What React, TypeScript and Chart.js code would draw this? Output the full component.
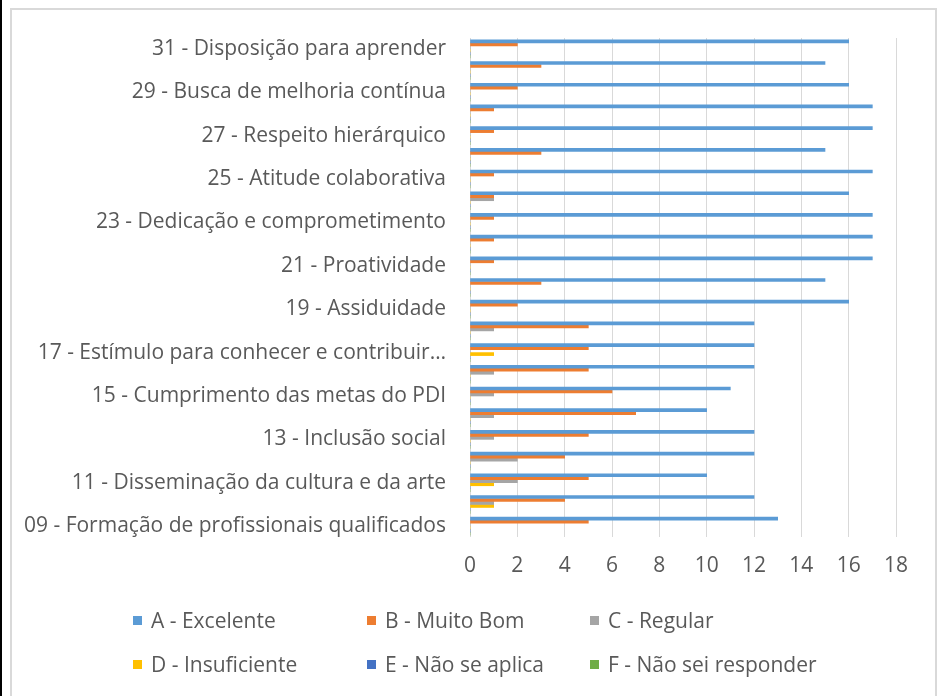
import React, { useEffect, useRef } from "react";
import { Chart, registerables } from "chart.js";

Chart.register(...registerables);

const categories = [
  "31 - Disposição para aprender",
  "30",
  "29 - Busca de melhoria contínua",
  "28",
  "27 - Respeito hierárquico",
  "26",
  "25 - Atitude colaborativa",
  "24",
  "23 - Dedicação e comprometimento",
  "22",
  "21 - Proatividade",
  "20",
  "19 - Assiduidade",
  "18",
  "17 - Estímulo para conhecer e contribuir…",
  "16",
  "15 - Cumprimento das metas do PDI",
  "14",
  "13 - Inclusão social",
  "12",
  "11 - Disseminação da cultura e da arte",
  "10",
  "09 - Formação de profissionais qualificados",
];

const seriesNames = [
  "A - Excelente",
  "B - Muito Bom",
  "C - Regular",
  "D - Insuficiente",
  "E - Não se aplica",
  "F - Não sei responder",
];

const seriesColors = ["#5B9BD5", "#ED7D31", "#A5A5A5", "#FFC000", "#4472C4", "#70AD47"];

const excelente = [16, 15, 16, 17, 17, 15, 17, 16, 17, 17, 17, 15, 16, 12, 12, 12, 11, 10, 12, 12, 10, 12, 13];
const muitoBom = [2, 3, 2, 1, 1, 3, 1, 1, 1, 1, 1, 3, 2, 5, 5, 5, 6, 7, 5, 4, 5, 4, 5];
const regular = [0, 0, 0, 0, 0, 0, 0, 1, 0, 0, 0, 0, 0, 1, 0, 1, 1, 1, 1, 2, 2, 1, 0];
const insuficiente = [0, 0, 0, 0, 0, 0, 0, 0, 0, 0, 0, 0, 0, 0, 1, 0, 0, 0, 0, 0, 1, 1, 0];
const naoSeAplica = [0, 0, 0, 0, 0, 0, 0, 0, 0, 0, 0, 0, 0, 0, 0, 0, 0, 0, 0, 0, 0, 0, 0];
const naoSeiResponder = [0, 0, 0, 0, 0, 0, 0, 0, 0, 0, 0, 0, 0, 0, 0, 0, 0, 0, 0, 0, 0, 0, 0];

const xTicks = [0, 2, 4, 6, 8, 10, 12, 14, 16, 18];

const FONT = "'Open Sans', Lato, sans-serif";
const FSIZE = 21;
const TEXT = "#595959";

export default function App() {
  const ref = useRef<HTMLCanvasElement | null>(null);

  useEffect(() => {
    if (!ref.current) return;
    const values = [excelente, muitoBom, regular, insuficiente, naoSeAplica, naoSeiResponder];
    const chart = new Chart(ref.current, {
      type: "bar",
      data: {
        labels: categories,
        datasets: values.map((v, i) => ({
          label: seriesNames[i],
          data: v,
          backgroundColor: seriesColors[i],
          borderWidth: 0,
          barThickness: 3,
        })),
      },
      options: {
        indexAxis: "y",
        animation: false,
        responsive: false,
        maintainAspectRatio: false,
        layout: { padding: { left: 10, top: 38, right: 47, bottom: 0 } },
        plugins: { legend: { display: false }, tooltip: { enabled: false } },
        scales: {
          y: {
            grid: { display: false, drawTicks: false },
            border: { display: false },
            afterFit: (s: any) => {
              s.width = 460;
            },
            ticks: {
              autoSkip: false,
              padding: 24,
              color: TEXT,
              font: { family: FONT, size: FSIZE },
              callback: (_v: any, i: number) => (i % 2 === 0 ? categories[i] : ""),
            },
          },
          x: {
            min: 0,
            max: 18,
            afterFit: (s: any) => {
              s.height = 696 - 537;
            },
            afterBuildTicks: (s: any) => {
              s.ticks = xTicks.map((v) => ({ value: v }));
            },
            grid: { color: "#d9d9d9", lineWidth: 1, drawTicks: false },
            border: { display: false },
            ticks: {
              padding: 16,
              color: TEXT,
              font: { family: FONT, size: FSIZE },
            },
          },
        },
      },
    });
    return () => chart.destroy();
  }, []);

  const legendPos = [
    { x: 133, y: 608 },
    { x: 367, y: 608 },
    { x: 590, y: 608 },
    { x: 133, y: 652 },
    { x: 367, y: 652 },
    { x: 590, y: 652 },
  ];

  return (
    <div style={{ position: "absolute", left: 0, top: 0, width: 943, height: 696, overflow: "hidden", background: "#fff" }}>
      <div style={{ position: "absolute", left: 0, top: 0, width: 2, height: 696, background: "#000" }} />
      <div
        style={{
          position: "absolute",
          left: 10,
          top: 8,
          width: 923,
          height: 720,
          border: "2px solid #d9d9d9",
          boxSizing: "content-box",
        }}
      />
      <canvas ref={ref} width={943} height={696} style={{ position: "absolute", left: 0, top: 0 }} />
      {seriesNames.map((n, i) => (
        <div
          key={n}
          style={{
            position: "absolute",
            left: legendPos[i].x,
            top: legendPos[i].y,
            height: 24,
            display: "flex",
            alignItems: "center",
            fontFamily: FONT,
            fontSize: FSIZE,
            color: TEXT,
            whiteSpace: "nowrap",
          }}
        >
          <span style={{ display: "inline-block", width: 9, height: 9, background: seriesColors[i], marginRight: 9 }} />
          {n}
        </div>
      ))}
    </div>
  );
}
